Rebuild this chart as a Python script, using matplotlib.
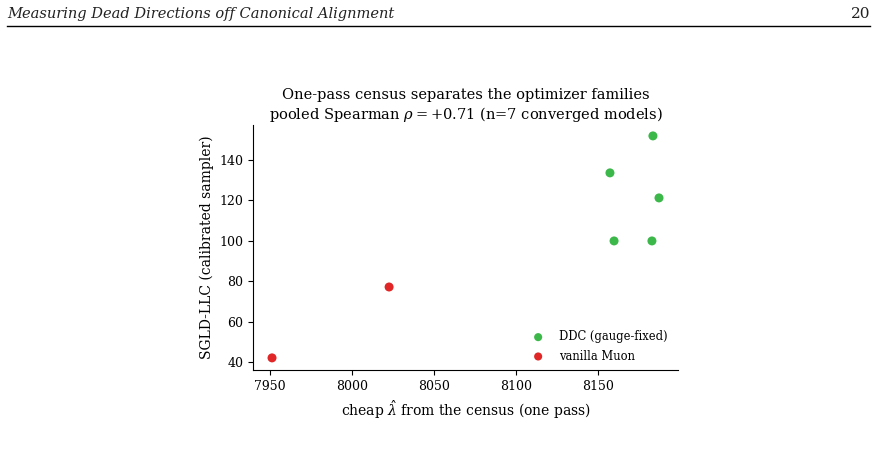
import matplotlib
matplotlib.use("Agg")
import matplotlib.pyplot as plt
from matplotlib.lines import Line2D

plt.rcParams['font.family'] = ['DejaVu Serif']
plt.rcParams['mathtext.fontset'] = 'dejavuserif'

ddc_x = [8183.5, 8157.3, 8187.2, 8159.8, 8182.9]
ddc_y = [151.9, 133.6, 121.2, 99.9, 99.9]
muon_x = [7951.2, 8022.6]
muon_y = [42.0, 77.1]

green = '#3cb84b'
red = '#e02626'

fig = plt.figure(figsize=(8.77, 4.54), dpi=100)

# page header
fig.text(7/877, 1 - 14/454, 'Measuring Dead Directions off Canonical Alignment',
         family='DejaVu Serif', style='italic', fontsize=10.5, va='center', ha='left', color='#222222')
fig.text(870/877, 1 - 14/454, '20', family='DejaVu Serif', fontsize=11, va='center', ha='right', color='#222222')
fig.add_artist(Line2D([7/877, 870/877], [1 - 26/454, 1 - 26/454], color='black', lw=1.0))

ax = fig.add_axes([253/877, 1 - 370/454, (678 - 253)/877, (370 - 125)/454])
ax.scatter(ddc_x, ddc_y, s=42, color=green, label='DDC (gauge-fixed)', zorder=3, edgecolors='none')
ax.scatter(muon_x, muon_y, s=42, color=red, label='vanilla Muon', zorder=3, edgecolors='none')

ax.set_xlim(7939.6, 8198.8)
ax.set_ylim(36.0, 157.3)
ax.set_xticks([7950, 8000, 8050, 8100, 8150])
ax.set_yticks([40, 60, 80, 100, 120, 140])
ax.tick_params(labelsize=9)
ax.spines['top'].set_visible(False)
ax.spines['right'].set_visible(False)

ax.set_xlabel(r'cheap $\hat{\lambda}$ from the census (one pass)', fontsize=10)
ax.set_ylabel('SGLD-LLC (calibrated sampler)', fontsize=10)
ax.set_title('One-pass census separates the optimizer families\n'
             r'pooled Spearman $\rho = +0.71$ (n=7 converged models)', fontsize=10.5, pad=4.5)
ax.legend(loc='lower right', bbox_to_anchor=(0.993, 0.0), frameon=False, fontsize=8.3,
          labelspacing=0.55, borderaxespad=0.25, markerscale=0.9)

fig.savefig('out.png', dpi=100)
